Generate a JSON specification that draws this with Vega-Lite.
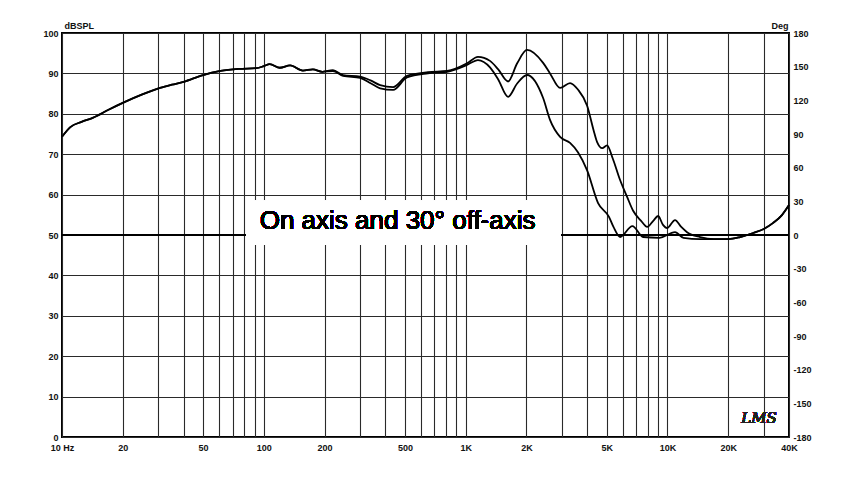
{
  "$schema": "https://vega.github.io/schema/vega-lite/v6.json",
  "width": 727,
  "height": 404,
  "autosize": {"type": "none"},
  "padding": {"left": 62, "top": 33, "right": 61, "bottom": 66},
  "background": "white",
  "config": {
    "view": {"stroke": "black", "strokeWidth": 2},
    "axis": {
      "labelFont": "Liberation Sans",
      "labelFontWeight": "bold",
      "labelFontSize": 9,
      "labelColor": "#111",
      "titleFont": "Liberation Sans",
      "titleFontWeight": "bold",
      "titleFontSize": 9,
      "titleColor": "#111",
      "ticks": false,
      "domain": false,
      "gridColor": "#2a2a2a",
      "gridWidth": 1.1,
      "gridOpacity": 1
    }
  },
  "datasets": {
    "spl": [
      {"f": 10, "db": 74.3, "s": "On axis"},
      {"f": 11, "db": 76.7, "s": "On axis"},
      {"f": 12.5, "db": 78, "s": "On axis"},
      {"f": 14.2, "db": 79, "s": "On axis"},
      {"f": 17, "db": 81, "s": "On axis"},
      {"f": 20, "db": 82.7, "s": "On axis"},
      {"f": 25, "db": 84.8, "s": "On axis"},
      {"f": 30.6, "db": 86.4, "s": "On axis"},
      {"f": 35, "db": 87.2, "s": "On axis"},
      {"f": 40, "db": 87.9, "s": "On axis"},
      {"f": 50, "db": 89.6, "s": "On axis"},
      {"f": 61, "db": 90.6, "s": "On axis"},
      {"f": 75, "db": 91.1, "s": "On axis"},
      {"f": 92, "db": 91.3, "s": "On axis"},
      {"f": 100, "db": 91.8, "s": "On axis"},
      {"f": 107, "db": 92.3, "s": "On axis"},
      {"f": 120, "db": 91.4, "s": "On axis"},
      {"f": 135, "db": 92, "s": "On axis"},
      {"f": 156, "db": 90.7, "s": "On axis"},
      {"f": 175, "db": 91, "s": "On axis"},
      {"f": 195, "db": 90.4, "s": "On axis"},
      {"f": 220, "db": 90.8, "s": "On axis"},
      {"f": 247, "db": 89.6, "s": "On axis"},
      {"f": 300, "db": 89.2, "s": "On axis"},
      {"f": 340, "db": 88.2, "s": "On axis"},
      {"f": 377, "db": 87.1, "s": "On axis"},
      {"f": 437, "db": 86.6, "s": "On axis"},
      {"f": 512, "db": 89.4, "s": "On axis"},
      {"f": 650, "db": 90.3, "s": "On axis"},
      {"f": 809, "db": 90.6, "s": "On axis"},
      {"f": 1016, "db": 92.5, "s": "On axis"},
      {"f": 1151, "db": 94.1, "s": "On axis"},
      {"f": 1320, "db": 93.1, "s": "On axis"},
      {"f": 1450, "db": 91, "s": "On axis"},
      {"f": 1622, "db": 88, "s": "On axis"},
      {"f": 1800, "db": 92.5, "s": "On axis"},
      {"f": 2014, "db": 95.8, "s": "On axis"},
      {"f": 2420, "db": 92.6, "s": "On axis"},
      {"f": 2618, "db": 90, "s": "On axis"},
      {"f": 2937, "db": 86.4, "s": "On axis"},
      {"f": 3290, "db": 87.6, "s": "On axis"},
      {"f": 3600, "db": 86, "s": "On axis"},
      {"f": 3998, "db": 82, "s": "On axis"},
      {"f": 4300, "db": 76, "s": "On axis"},
      {"f": 4481, "db": 73, "s": "On axis"},
      {"f": 4750, "db": 71.5, "s": "On axis"},
      {"f": 5022, "db": 72.2, "s": "On axis"},
      {"f": 5350, "db": 69, "s": "On axis"},
      {"f": 5823, "db": 63.6, "s": "On axis"},
      {"f": 6300, "db": 59.5, "s": "On axis"},
      {"f": 6757, "db": 56, "s": "On axis"},
      {"f": 7400, "db": 53.5, "s": "On axis"},
      {"f": 7930, "db": 52, "s": "On axis"},
      {"f": 8500, "db": 53.5, "s": "On axis"},
      {"f": 8985, "db": 54.7, "s": "On axis"},
      {"f": 9500, "db": 52.5, "s": "On axis"},
      {"f": 9950, "db": 51.7, "s": "On axis"},
      {"f": 10900, "db": 53.7, "s": "On axis"},
      {"f": 11700, "db": 52, "s": "On axis"},
      {"f": 12500, "db": 50.7, "s": "On axis"},
      {"f": 14500, "db": 49.5, "s": "On axis"},
      {"f": 17000, "db": 49, "s": "On axis"},
      {"f": 20000, "db": 49, "s": "On axis"},
      {"f": 22900, "db": 49.5, "s": "On axis"},
      {"f": 26600, "db": 50.5, "s": "On axis"},
      {"f": 30000, "db": 51.5, "s": "On axis"},
      {"f": 33400, "db": 53, "s": "On axis"},
      {"f": 37000, "db": 55, "s": "On axis"},
      {"f": 40000, "db": 57.4, "s": "On axis"},
      {"f": 10, "db": 74.3, "s": "30° off-axis"},
      {"f": 11, "db": 76.7, "s": "30° off-axis"},
      {"f": 12.5, "db": 78, "s": "30° off-axis"},
      {"f": 14.2, "db": 79, "s": "30° off-axis"},
      {"f": 17, "db": 81, "s": "30° off-axis"},
      {"f": 20, "db": 82.7, "s": "30° off-axis"},
      {"f": 25, "db": 84.8, "s": "30° off-axis"},
      {"f": 30.6, "db": 86.4, "s": "30° off-axis"},
      {"f": 35, "db": 87.2, "s": "30° off-axis"},
      {"f": 40, "db": 87.9, "s": "30° off-axis"},
      {"f": 50, "db": 89.6, "s": "30° off-axis"},
      {"f": 61, "db": 90.6, "s": "30° off-axis"},
      {"f": 75, "db": 91.1, "s": "30° off-axis"},
      {"f": 92, "db": 91.3, "s": "30° off-axis"},
      {"f": 100, "db": 91.8, "s": "30° off-axis"},
      {"f": 107, "db": 92.3, "s": "30° off-axis"},
      {"f": 120, "db": 91.4, "s": "30° off-axis"},
      {"f": 135, "db": 92, "s": "30° off-axis"},
      {"f": 156, "db": 90.7, "s": "30° off-axis"},
      {"f": 175, "db": 91, "s": "30° off-axis"},
      {"f": 195, "db": 90.4, "s": "30° off-axis"},
      {"f": 220, "db": 90.6, "s": "30° off-axis"},
      {"f": 247, "db": 89.4, "s": "30° off-axis"},
      {"f": 300, "db": 88.9, "s": "30° off-axis"},
      {"f": 340, "db": 87.5, "s": "30° off-axis"},
      {"f": 377, "db": 86.3, "s": "30° off-axis"},
      {"f": 437, "db": 85.9, "s": "30° off-axis"},
      {"f": 512, "db": 89, "s": "30° off-axis"},
      {"f": 650, "db": 90, "s": "30° off-axis"},
      {"f": 809, "db": 90.4, "s": "30° off-axis"},
      {"f": 1016, "db": 92.1, "s": "30° off-axis"},
      {"f": 1151, "db": 93.3, "s": "30° off-axis"},
      {"f": 1320, "db": 91.5, "s": "30° off-axis"},
      {"f": 1450, "db": 88.5, "s": "30° off-axis"},
      {"f": 1622, "db": 84.2, "s": "30° off-axis"},
      {"f": 1800, "db": 87.5, "s": "30° off-axis"},
      {"f": 2014, "db": 89.6, "s": "30° off-axis"},
      {"f": 2420, "db": 83.9, "s": "30° off-axis"},
      {"f": 2618, "db": 78.5, "s": "30° off-axis"},
      {"f": 2937, "db": 74.3, "s": "30° off-axis"},
      {"f": 3290, "db": 72.8, "s": "30° off-axis"},
      {"f": 3600, "db": 70.5, "s": "30° off-axis"},
      {"f": 3998, "db": 66, "s": "30° off-axis"},
      {"f": 4530, "db": 57.9, "s": "30° off-axis"},
      {"f": 5130, "db": 54.5, "s": "30° off-axis"},
      {"f": 5400, "db": 52, "s": "30° off-axis"},
      {"f": 5823, "db": 49.5, "s": "30° off-axis"},
      {"f": 6700, "db": 52.2, "s": "30° off-axis"},
      {"f": 7570, "db": 49.5, "s": "30° off-axis"},
      {"f": 9090, "db": 49.3, "s": "30° off-axis"},
      {"f": 10900, "db": 50.7, "s": "30° off-axis"},
      {"f": 12000, "db": 49.3, "s": "30° off-axis"},
      {"f": 14500, "db": 49, "s": "30° off-axis"},
      {"f": 17000, "db": 49, "s": "30° off-axis"},
      {"f": 20000, "db": 49, "s": "30° off-axis"},
      {"f": 22900, "db": 49.5, "s": "30° off-axis"},
      {"f": 26600, "db": 50.5, "s": "30° off-axis"},
      {"f": 30000, "db": 51.5, "s": "30° off-axis"},
      {"f": 33400, "db": 53, "s": "30° off-axis"},
      {"f": 37000, "db": 55, "s": "30° off-axis"},
      {"f": 40000, "db": 57.4, "s": "30° off-axis"}
    ],
    "phase": [{"deg": 0}]
  },
  "layer": [
    {
      "data": {"name": "phase"},
      "mark": {"type": "rule", "color": "black", "strokeWidth": 2},
      "encoding": {
        "y": {
          "field": "deg",
          "type": "quantitative",
          "scale": {"domain": [-180, 180], "nice": false, "zero": false},
          "axis": {
            "orient": "right",
            "values": [-180, -150, -120, -90, -60, -30, 0, 30, 60, 90, 120, 150, 180],
            "labelExpr": "toString(datum.value)",
            "grid": false,
            "labelAlign": "left",
            "labelPadding": 4,
            "title": "Deg",
            "titleAngle": 0,
            "titleAlign": "right",
            "titleBaseline": "bottom",
            "titleX": -1,
            "titleY": -3
          }
        }
      }
    },
    {
      "data": {"name": "spl"},
      "layer": [
        {
          "mark": {"type": "rect", "color": "white"},
          "encoding": {
            "x": {"datum": 82},
            "x2": {"datum": 2960},
            "y": {"datum": 47.5},
            "y2": {"datum": 58.5}
          }
        },
        {
          "mark": {"type": "text", "font": "Liberation Sans", "fontSize": 26, "color": "black", "align": "center", "baseline": "middle", "text": "On axis and 30° off-axis"},
          "encoding": {
            "x": {"datum": 460},
            "y": {"datum": 53.5}
          }
        },
        {
          "mark": {"type": "text", "font": "DejaVu Serif", "fontStyle": "italic", "fontSize": 15, "color": "#222", "align": "center", "baseline": "middle", "text": "LMS"},
          "encoding": {
            "x": {"datum": 28400},
            "y": {"datum": 4.8}
          }
        },
        {
          "mark": {"type": "line", "color": "black", "strokeWidth": 1.8, "interpolate": "monotone"},
          "encoding": {
            "x": {
              "field": "f",
              "type": "quantitative",
              "scale": {"type": "log", "domain": [10, 40000], "nice": false},
              "axis": {
                "grid": true,
                "values": [10, 20, 30, 40, 50, 60, 70, 80, 90, 100, 200, 300, 400, 500, 600, 700, 800, 900, 1000, 2000, 3000, 4000, 5000, 6000, 7000, 8000, 9000, 10000, 20000, 30000, 40000],
                "labelExpr": "datum.value == 10 ? '10  Hz' : indexof([20, 50, 100, 200, 500], datum.value) >= 0 ? toString(datum.value) : indexof([1000, 2000, 5000, 10000, 20000, 40000], datum.value) >= 0 ? toString(datum.value / 1000) + 'K' : ''",
                "labelOverlap": false,
                "labelFlush": false,
                "labelPadding": 6,
                "title": null
              }
            },
            "y": {
              "field": "db",
              "type": "quantitative",
              "scale": {"domain": [0, 100], "nice": false},
              "axis": {
                "grid": true,
                "values": [0, 10, 20, 30, 40, 50, 60, 70, 80, 90, 100],
                "labelPadding": 4,
                "title": "dBSPL",
                "titleAngle": 0,
                "titleAlign": "left",
                "titleBaseline": "bottom",
                "titleX": 2,
                "titleY": -3
              }
            },
            "detail": {"field": "s", "type": "nominal"}
          }
        }
      ]
    }
  ],
  "resolve": {"scale": {"y": "independent"}}
}
